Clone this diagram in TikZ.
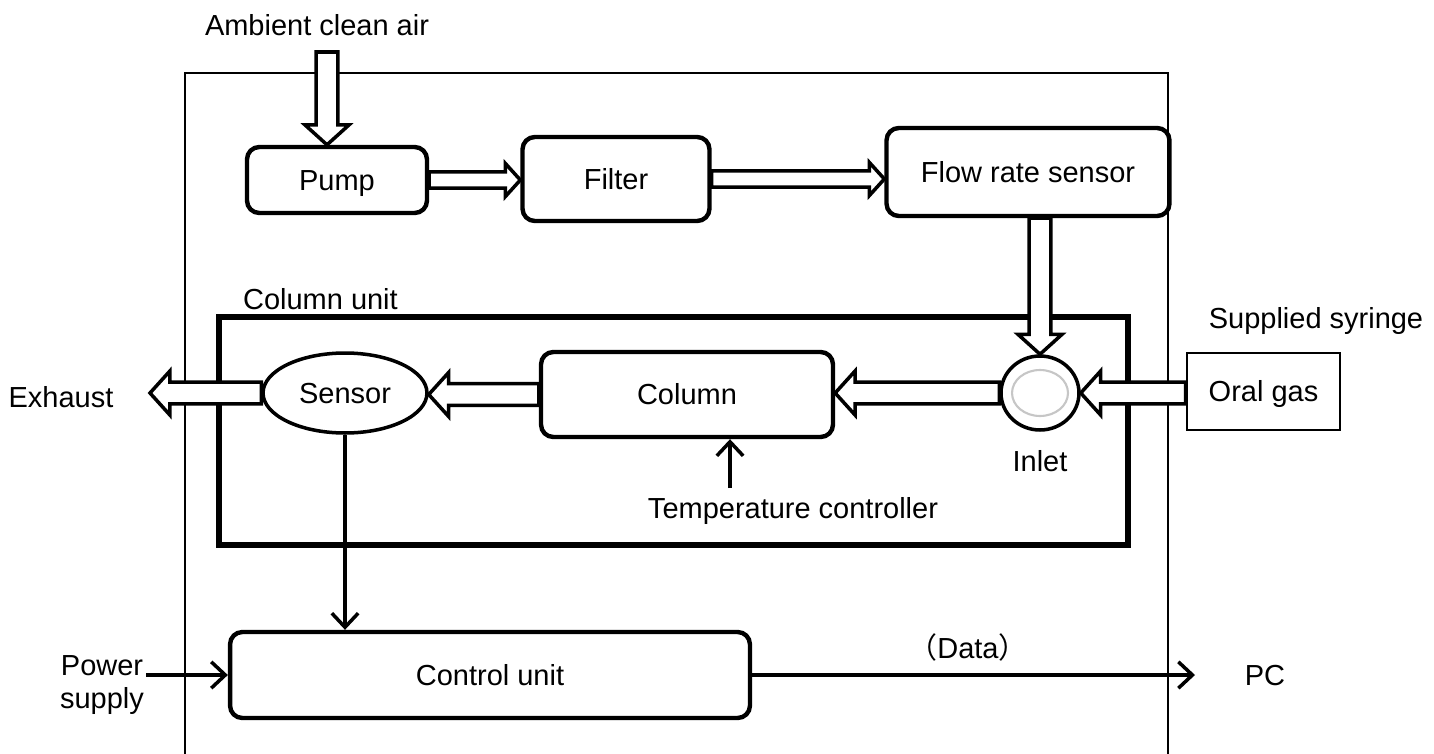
\documentclass[tikz,border=0pt]{standalone}
\usepackage{fontspec}
\setmainfont{Liberation Sans}
\newfontfamily\cjk{Noto Sans CJK SC}
\usepackage{tikz}
\usetikzlibrary{arrows.meta,calc,positioning,shapes.geometric}

% hollow block arrow from #2 to #3, #1 scales its width
\newcommand{\fatarrow}[3][1]{%
  \pgfmathsetlengthmacro\fashaft{#1*6.2pt}%
  \pgfmathsetlengthmacro\fahead{#1*12.5pt}%
  \pgfmathsetlengthmacro\falen{#1*11.3pt}%
  \coordinate (fa-a) at (#2);
  \coordinate (fa-b) at (#3);
  \coordinate (fa-h) at ($(fa-b)!\falen!(fa-a)$);
  \draw[fat arrow] ($(fa-a)!\fashaft!90:(fa-b)$) -- ($(fa-h)!\fashaft!90:(fa-b)$)
    -- ($(fa-h)!\fahead!90:(fa-b)$) -- (fa-b) -- ($(fa-h)!\fahead!-90:(fa-b)$)
    -- ($(fa-h)!\fashaft!-90:(fa-b)$) -- ($(fa-a)!\fashaft!-90:(fa-b)$) -- cycle;}

\begin{document}
\begin{tikzpicture}[x=0.02cm,y=-0.02cm,
    font=\fontsize{16.5}{19}\selectfont,
    captext/.style={text height=11.8pt,text depth=0pt},
    block/.style={draw,captext,line width=2.5pt,rounded corners=7pt,inner sep=0pt},
    ellblock/.style={draw,captext,ellipse,line width=2pt,inner sep=0pt},
    fat arrow/.style={draw,fill=white,line width=2pt,line join=miter},
    sig/.style={line width=2pt,-{Straight Barb[length=8pt,width=15pt,line width=2pt]}},
    lbl/.style={captext,inner sep=1pt}]
  \useasboundingbox (0,0) rectangle (1434,754);

  % outer case, open at the bottom
  \draw[line width=0.85pt] (185,754) -- (185,73) -- (1168,73) -- (1168,754);

  % air path
  \node[block,minimum width=3.6cm,minimum height=1.32cm] (pump) at (337,180) {Pump};
  \node[block,minimum width=3.74cm,minimum height=1.68cm] (filter) at (616,179) {Filter};
  \node[block,minimum width=5.66cm,minimum height=1.76cm] (flow) at (1028,172) {Flow rate sensor};
  \node[lbl] (air) at (317,25) {Ambient clean air};
  \coordinate (airin) at (327,52);

  % column unit
  \node[draw,line width=3.4pt,minimum width=18.18cm,minimum height=4.56cm] (cunit) at (673.5,431) {};
  \node[lbl,anchor=west] (cunitlbl) at (241,299) {Column unit};
  \node[block,minimum width=5.84cm,minimum height=1.7cm] (column) at (687,394.5) {Column};
  \node[ellblock,minimum width=3.28cm,minimum height=1.6cm] (sensor) at (345,393) {Sensor};
  \node[ellblock,minimum width=1.56cm,minimum height=1.48cm] (inlet) at (1040,393) {};
  \draw[gray!45,line width=1.2pt] (inlet.center) ellipse [x radius=0.56cm,y radius=0.46cm];
  \node[lbl] (inletlbl) at (1040,461) {Inlet};
  \node[lbl] (tc) at (793,508) {Temperature controller};
  \coordinate (tcin) at (730,488);

  % sample side
  \node[draw,captext,line width=1.6pt,minimum width=3.06cm,minimum height=1.54cm] (oral) at (1263.5,391.5) {Oral gas};
  \node[lbl] (syringe) at (1316,318) {Supplied syringe};
  \node[lbl] (exhaust) at (61,397) {Exhaust};
  \coordinate (exhout) at (150,397);

  % control
  \node[block,minimum width=10.4cm,minimum height=1.72cm] (cu) at (490,675) {Control unit};
  \node[inner sep=1pt,align=center] (power) at (102,685) {Power\\supply};
  \node[lbl] (pc) at (1265,675) {PC};
  \node[lbl] (data) at (968,648) {{\cjk （}Data{\cjk ）}};
  \coordinate (pcin) at (1195,675);

  % gas flow
  \fatarrow{airin}{airin |- pump.north}
  \fatarrow[0.75]{pump.east}{pump.east -| filter.west}
  \fatarrow[0.75]{filter.east}{filter.east -| flow.west}
  \fatarrow{inlet.north |- flow.south}{inlet.north}
  \fatarrow{oral.west |- inlet.east}{inlet.east}
  \fatarrow{inlet.west}{inlet.west -| column.east}
  \fatarrow{column.west}{column.west -| sensor.east}
  \fatarrow{sensor.west}{sensor.west -| exhout}

  % signals
  \draw[sig] (tcin) -- (tcin |- column.south);
  \draw[sig] (sensor.south) -- (sensor.south |- cu.north);
  \draw[sig] (power.east |- cu.west) -- (cu.west);
  \draw[sig] (cu.east) -- (pcin);
\end{tikzpicture}
\end{document}
